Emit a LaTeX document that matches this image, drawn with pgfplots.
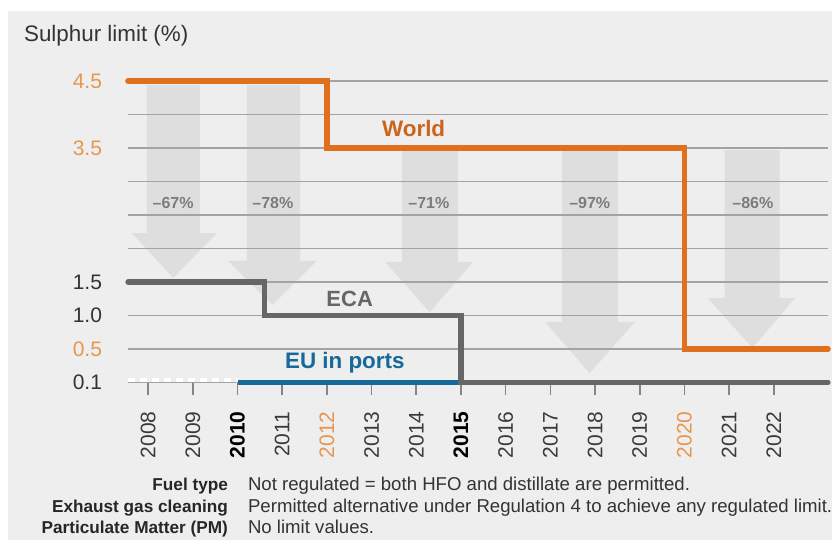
\documentclass[border=0pt]{standalone}
\usepackage{pgfplots}
\pgfplotsset{compat=1.18}
\usepackage{fontspec}
\setmainfont{Liberation Sans}
\definecolor{bgc}{HTML}{EEEEEE}
\definecolor{worldc}{HTML}{E0701E}
\definecolor{orlab}{HTML}{E8964E}
\definecolor{ecac}{HTML}{666666}
\definecolor{euc}{HTML}{17699A}
\definecolor{gridc}{HTML}{A3A3A3}
\definecolor{arrc}{HTML}{DEDEDE}
\definecolor{pctc}{HTML}{7C7C7C}
\definecolor{txt}{HTML}{333333}
\definecolor{yc}{HTML}{3A3A3A}
\begin{document}
\begin{tikzpicture}
\fill[white] (0pt,0pt) rectangle (416pt,270pt);
\path[use as bounding box] (0pt,0pt) rectangle (416pt,270pt);
\fill[bgc] (4pt,0pt) rectangle (416pt,264.5pt);
\node[anchor=base west, font=\fontsize{11.2}{13}\selectfont, text=txt] at (8.5pt,249pt) {Sulphur limit (\%)};
\begin{axis}[
  at={(64pt,78.75pt)}, anchor=south west,
  scale only axis, width=350pt, height=150.75pt,
  xmin=2007.55, xmax=2023.21, ymin=0, ymax=9,
  clip=false,
  axis line style={draw=none},
  xtick={2008,...,2022},
  xticklabels={\textcolor{yc}{2008},\textcolor{yc}{2009},\textbf{2010},\textcolor{yc}{2011},\textcolor{orlab}{2012},\textcolor{yc}{2013},\textcolor{yc}{2014},\textbf{2015},\textcolor{yc}{2016},\textcolor{yc}{2017},\textcolor{yc}{2018},\textcolor{yc}{2019},\textcolor{orlab}{2020},\textcolor{yc}{2021},\textcolor{yc}{2022}},
  xtick pos=left,
  tick align=outside,
  major tick length=6.5pt,
  xtick style={draw=ecac!80, line width=0.8pt},
  xticklabel shift=4.5pt,
  xticklabel style={rotate=90, anchor=east, font=\fontsize{10.5}{12}\selectfont},
  ytick={0,1,2,3,7,9},
  yticklabels={\textcolor{txt}{0.1},\textcolor{orlab}{0.5},\textcolor{txt}{1.0},\textcolor{txt}{1.5},\textcolor{orlab}{3.5},\textcolor{orlab}{4.5}},
  ytick style={draw=none},
  yticklabel style={font=\fontsize{10.5}{12}\selectfont, xshift=-3pt},
  /pgf/number format/assume math mode=true,
]
% arrows
\addplot[fill=arrc, draw=none] coordinates {(2007.97,8.88)(2009.16,8.88)(2009.16,4.46)(2009.54,4.46)(2008.56,3.12)(2007.64,4.46)(2007.97,4.46)} -- cycle;
\addplot[fill=arrc, draw=none] coordinates {(2010.21,8.88)(2011.40,8.88)(2011.40,3.63)(2011.77,3.63)(2010.78,2.31)(2009.79,3.63)(2010.21,3.63)} -- cycle;
\addplot[fill=arrc, draw=none] coordinates {(2013.68,6.94)(2014.93,6.94)(2014.93,3.60)(2015.27,3.60)(2014.30,2.10)(2013.30,3.60)(2013.68,3.60)} -- cycle;
\addplot[fill=arrc, draw=none] coordinates {(2017.26,6.94)(2018.51,6.94)(2018.51,1.81)(2018.89,1.81)(2017.88,0.28)(2016.88,1.81)(2017.26,1.81)} -- cycle;
\addplot[fill=arrc, draw=none] coordinates {(2020.90,6.94)(2022.13,6.94)(2022.13,2.52)(2022.47,2.52)(2021.52,1.03)(2020.52,2.52)(2020.90,2.52)} -- cycle;
% grid lines
\addplot[gridc, line width=0.7pt] coordinates {(2007.55,0)(2023.21,0)};
\addplot[gridc, line width=0.7pt] coordinates {(2007.55,1)(2023.21,1)};
\addplot[gridc, line width=0.7pt] coordinates {(2007.55,2)(2023.21,2)};
\addplot[gridc, line width=0.7pt] coordinates {(2007.55,3)(2023.21,3)};
\addplot[gridc, line width=0.7pt] coordinates {(2007.55,4)(2023.21,4)};
\addplot[gridc, line width=0.7pt] coordinates {(2007.55,5)(2023.21,5)};
\addplot[gridc, line width=0.7pt] coordinates {(2007.55,6)(2023.21,6)};
\addplot[gridc, line width=0.7pt] coordinates {(2007.55,7)(2023.21,7)};
\addplot[gridc, line width=0.7pt] coordinates {(2007.55,8)(2023.21,8)};
\addplot[gridc, line width=0.7pt] coordinates {(2007.55,9)(2023.21,9)};
% white dashed (pre-2010 EU)
\addplot[white, line width=2pt, dash pattern=on 3.5pt off 2.5pt] coordinates {(2007.55,0.07)(2010,0.07)};
% EU in ports
\addplot[euc, line width=2.6pt] coordinates {(2010,0)(2015,0)};
% ECA
\addplot[ecac, line width=2.6pt, line cap=round, line join=miter] coordinates {(2007.55,3)(2010.6,3)(2010.6,2)(2015,2)(2015,0)(2023.21,0)};
% World
\addplot[worldc, line width=2.8pt, line cap=round, line join=miter] coordinates {(2007.55,9)(2012,9)(2012,7)(2020,7)(2020,1)(2023.21,1)};
% labels
\node[anchor=base, font=\bfseries\fontsize{11.2}{13}\selectfont, text=worldc!90!black] at (axis cs:2013.94,7.34) {World};
\node[anchor=base, font=\bfseries\fontsize{11}{13}\selectfont, text=ecac] at (axis cs:2012.51,2.26) {ECA};
\node[anchor=base, font=\bfseries\fontsize{11.2}{13}\selectfont, text=euc] at (axis cs:2012.40,0.43) {EU in ports};
\node[anchor=base, font=\bfseries\fontsize{8}{10}\selectfont, text=pctc] at (axis cs:2008.56,5.18) {–67\%};
\node[anchor=base, font=\bfseries\fontsize{8}{10}\selectfont, text=pctc] at (axis cs:2010.79,5.18) {–78\%};
\node[anchor=base, font=\bfseries\fontsize{8}{10}\selectfont, text=pctc] at (axis cs:2014.28,5.18) {–71\%};
\node[anchor=base, font=\bfseries\fontsize{8}{10}\selectfont, text=pctc] at (axis cs:2017.88,5.18) {–97\%};
\node[anchor=base, font=\bfseries\fontsize{8}{10}\selectfont, text=pctc] at (axis cs:2021.53,5.18) {–86\%};
\end{axis}
\node[anchor=base east, font=\bfseries\fontsize{8.6}{10}\selectfont, text=black!85] at (117.5pt,24.5pt) {Fuel type};
\node[anchor=base east, font=\bfseries\fontsize{8.6}{10}\selectfont, text=black!85] at (117.5pt,13.5pt) {Exhaust gas cleaning};
\node[anchor=base east, font=\bfseries\fontsize{8.6}{10}\selectfont, text=black!85] at (117.5pt,3pt) {Particulate Matter (PM)};
\node[anchor=base west, font=\fontsize{9.3}{11}\selectfont, text=txt] at (120.5pt,24.5pt) {Not regulated = both HFO and distillate are permitted.};
\node[anchor=base west, font=\fontsize{9.3}{11}\selectfont, text=txt] at (120.5pt,13.5pt) {Permitted alternative under Regulation 4 to achieve any regulated limit.};
\node[anchor=base west, font=\fontsize{9.3}{11}\selectfont, text=txt] at (120.5pt,3pt) {No limit values.};
\end{tikzpicture}
\end{document}
